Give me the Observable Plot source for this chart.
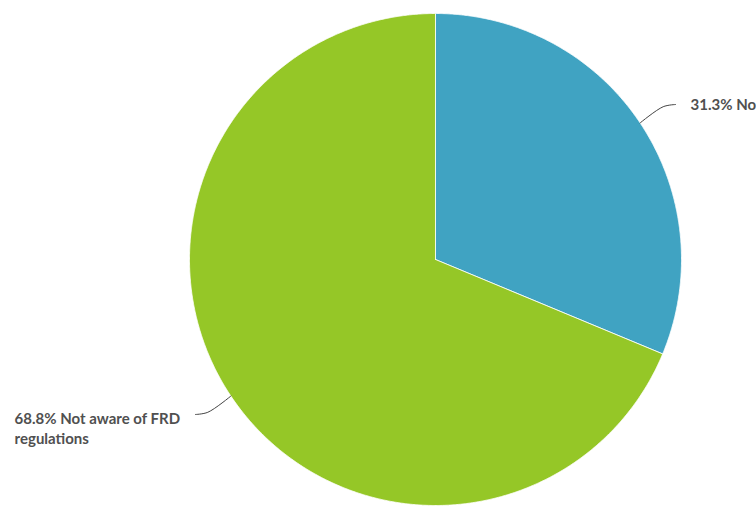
<!DOCTYPE html>
<html>
<head>
<meta charset="utf-8">
<script src="https://cdn.jsdelivr.net/npm/d3@7"></script>
<script src="https://cdn.jsdelivr.net/npm/@observablehq/plot@0.6"></script>
<style>
  html, body { margin: 0; padding: 0; background: #fff; }
  #chart svg { display: block; }
</style>
</head>
<body>
<div id="chart"></div>
<script>
const categories = ["No", "Not aware of FRD regulations"];
const values = [31.3, 68.8];
const labels = ["31.3% No", "68.8% Not aware of FRD\nregulations"];
const colors = ["#40a3c2", "#95c727"];

const arcs = d3.pie().sort(null).value(d => d)(values);

// slice polygons in unit-circle coordinates (angle 0 at top, clockwise)
const slicePts = [];
arcs.forEach((a, i) => {
  slicePts.push({cat: categories[i], x: 0, y: 0});
  const n = Math.max(2, Math.ceil((a.endAngle - a.startAngle) / 0.005));
  for (let k = 0; k <= n; k++) {
    const t = a.startAngle + (a.endAngle - a.startAngle) * k / n;
    slicePts.push({cat: categories[i], x: Math.sin(t), y: Math.cos(t)});
  }
  slicePts.push({cat: categories[i], x: 0, y: 0});
});

// connectors and label anchors
const leaderPts = [];
const labelPts = [];
arcs.forEach((a, i) => {
  const m = (a.startAngle + a.endAngle) / 2;
  const ex = Math.sin(m), ey = Math.cos(m);
  const side = ex >= 0 ? 1 : -1;
  const endY = ey + (ey > 0 ? 0.075 : -0.075);
  const endX = side * 0.976;
  const midX = ex + (endX - ex) * 0.65;
  leaderPts.push({cat: categories[i], x: ex, y: ey});
  leaderPts.push({cat: categories[i], x: midX, y: endY - (endY - ey) * 0.12});
  leaderPts.push({cat: categories[i], x: endX, y: endY});
  labelPts.push({
    label: labels[i],
    x: side > 0 ? 1.037 : -1.711,
    y: side > 0 ? endY + 0.004 : endY - 0.052
  });
});

const chart = Plot.plot({
  width: 756,
  height: 509,
  marginLeft: 189,
  marginRight: 75,
  marginTop: 13,
  marginBottom: 4,
  x: {domain: [-1, 1], axis: null},
  y: {domain: [-1, 1], axis: null},
  style: {fontFamily: "Lato, sans-serif", background: "#fff", overflow: "visible"},
  marks: [
    Plot.line(slicePts, {
      x: "x", y: "y", z: "cat",
      fill: d => colors[categories.indexOf(d.cat)],
      stroke: "#fff", strokeWidth: 0.8, curve: "linear"
    }),
    Plot.line(leaderPts, {
      x: "x", y: "y", z: "cat",
      stroke: "#444", strokeWidth: 1, curve: "catmull-rom"
    }),
    Plot.text(labelPts, {
      x: "x", y: "y", text: "label",
      textAnchor: "start", lineAnchor: "middle",
      fontSize: 15, fontWeight: "bold", fill: "#505050", lineHeight: 1.33
    })
  ]
});
document.getElementById("chart").appendChild(chart);
</script>
</body>
</html>
